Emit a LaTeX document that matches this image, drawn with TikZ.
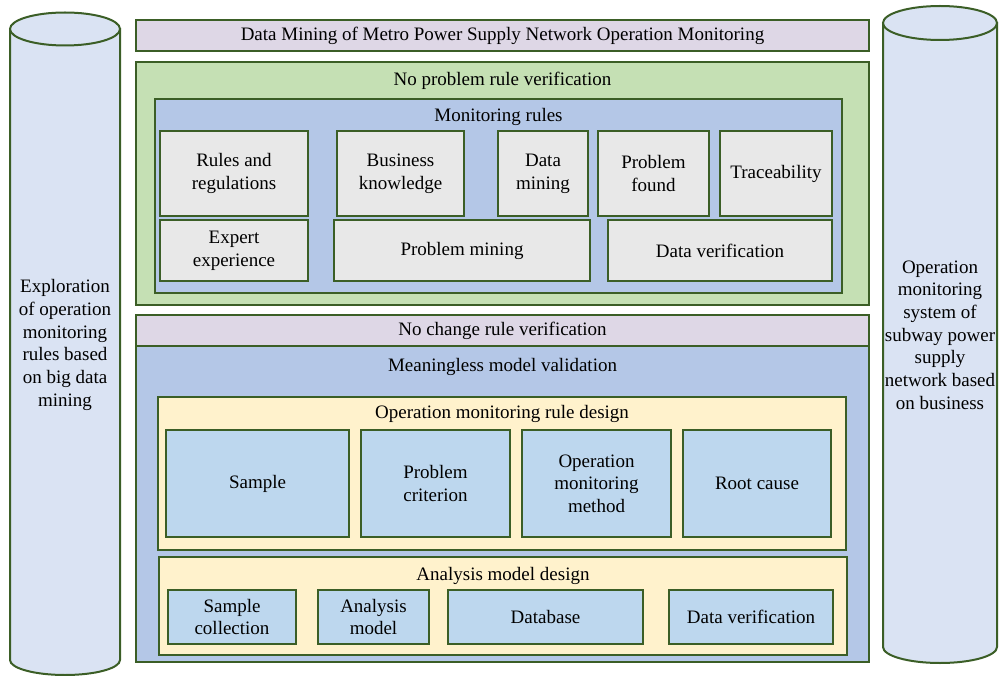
\documentclass[tikz,border=0pt]{standalone}
\usepackage{fontspec}
\newfontfamily\lsf{Liberation Serif}[Ligatures=CommonOff]
\definecolor{bord}{HTML}{3B5E26}
\definecolor{lav}{HTML}{DED7E6}
\definecolor{grn}{HTML}{C5E0B4}
\definecolor{blu}{HTML}{B4C7E7}
\definecolor{gry}{HTML}{E8E8E8}
\definecolor{cyl}{HTML}{DAE3F3}
\definecolor{yel}{HTML}{FFF2CC}
\definecolor{lblu}{HTML}{BDD7EE}
\newcommand\bx[7]{\node[#6, minimum width={(#4-#2)*1pt}, minimum height={(#5-#3)*1pt}] (#1) at ({(#2+#4)/2},{(#3+#5)/2}) {\lsf #7};}
\begin{document}
\begin{tikzpicture}[x=1pt,y=-1pt,font=\fontsize{19}{22.7}\selectfont,
  box/.style={draw=bord, line width=2pt, inner sep=0pt, outer sep=0pt, align=center},
  lavbox/.style={box, fill=lav},
  grnbox/.style={box, fill=grn},
  blubox/.style={box, fill=blu},
  grybox/.style={box, fill=gry},
  yelbox/.style={box, fill=yel},
  lbox/.style={box, fill=lblu},
  cylstyle/.style={draw=bord, line width=2pt, fill=cyl},
  lbl/.style={inner sep=0pt, align=center}]
\useasboundingbox (0,0) rectangle (1003,676);
% cylinders
\path[cylstyle] (10,29) -- (10,660) arc[start angle=180, end angle=0, x radius=55, y radius=15] -- (120,29) -- cycle;
\path[cylstyle] (65,29) ellipse[x radius=55, y radius=16.5];
\path[cylstyle] (883,23) -- (883,647) arc[start angle=180, end angle=0, x radius=57, y radius=16] -- (997,23) -- cycle;
\path[cylstyle] (940,23) ellipse[x radius=57, y radius=17];
\node[lbl] (leftcyl) at (65,345) {\lsf Exploration\\\lsf of operation\\\lsf monitoring\\\lsf rules based\\\lsf on big data\\\lsf mining};
\node[lbl] (rightcyl) at (940,335) {\lsf Operation\\\lsf monitoring\\\lsf system of\\\lsf subway power\\\lsf supply\\\lsf network based\\\lsf on business};
% title
\bx{title}{136}{20}{869}{51}{lavbox}{Data Mining of Metro Power Supply Network Operation Monitoring}
% green
\bx{green}{136}{62}{869}{305}{grnbox}{}
\node[lbl] (greenlbl) at (502.5,81) {\lsf No problem rule verification};
\bx{monrules}{155}{99}{842}{293}{blubox}{}
\node[lbl] (monlbl) at (498.5,117) {\lsf Monitoring rules};
\bx{rules}{160}{131}{308}{216}{grybox}{Rules and\\\lsf regulations}
\bx{business}{337}{131}{464}{216}{grybox}{Business\\\lsf knowledge}
\bx{dmining}{498}{131}{588}{216}{grybox}{Data\\\lsf mining}
\bx{pfound}{598}{131}{709}{216}{grybox}{Problem\\\lsf found}
\bx{trace}{720}{131}{832}{216}{grybox}{Traceability}
\bx{expert}{160}{220}{308}{281}{grybox}{Expert\\\lsf experience}
\bx{pmining}{334}{220}{590}{281}{grybox}{Problem mining}
\bx{dverif}{608}{220}{832}{281}{grybox}{Data verification}
% no change
\bx{nochange}{136}{315}{869}{346}{lavbox}{No change rule verification}
% meaningless
\bx{meaning}{136}{346}{869}{662}{blubox}{}
\node[lbl] (meaninglbl) at (502.5,367) {\lsf Meaningless model validation};
\bx{omrd}{158}{397}{846}{550}{yelbox}{}
\node[lbl] (omrdlbl) at (502,414) {\lsf Operation monitoring rule design};
\bx{sample}{166}{430}{349}{537}{lbox}{Sample}
\bx{pcrit}{361}{430}{510}{537}{lbox}{Problem\\\lsf criterion}
\bx{ommethod}{522}{430}{671}{537}{lbox}{Operation\\\lsf monitoring\\\lsf method}
\bx{root}{683}{430}{831}{537}{lbox}{Root cause}
\bx{amd}{159}{557}{847}{655}{yelbox}{}
\node[lbl] (amdlbl) at (503,576) {\lsf Analysis model design};
\bx{scoll}{168}{590}{296}{644}{lbox}{Sample\\\lsf collection}
\bx{amodel}{318}{590}{429}{644}{lbox}{Analysis\\\lsf model}
\bx{db}{448}{590}{643}{644}{lbox}{Database}
\bx{dverif2}{669}{590}{833}{644}{lbox}{Data verification}
\end{tikzpicture}
\end{document}
